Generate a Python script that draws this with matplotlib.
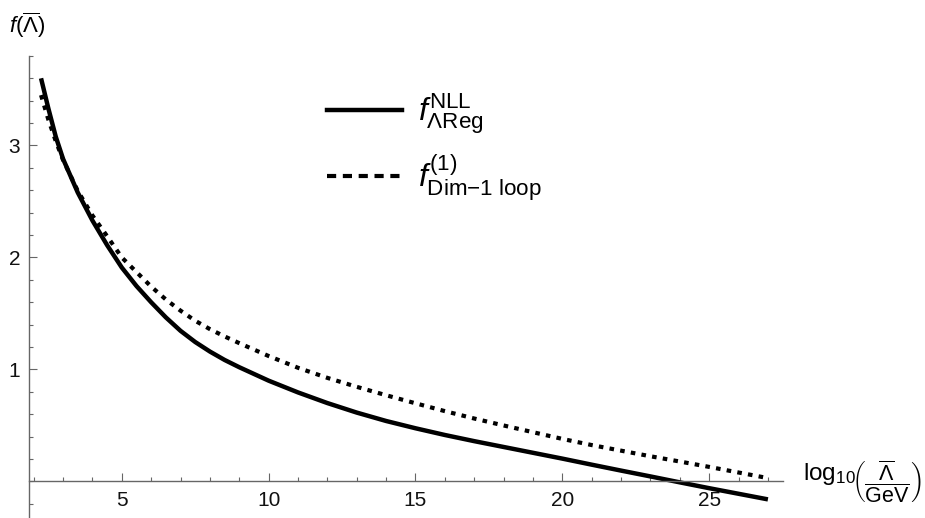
import numpy as np
import matplotlib.pyplot as plt
from matplotlib.lines import Line2D
from matplotlib.ticker import MultipleLocator, FixedLocator

plt.rcParams['font.family'] = ['Liberation Sans', 'DejaVu Sans']
plt.rcParams['mathtext.fontset'] = 'custom'
plt.rcParams['mathtext.rm'] = 'Liberation Sans'
plt.rcParams['mathtext.it'] = 'Liberation Sans:italic'
plt.rcParams['mathtext.bf'] = 'Liberation Sans:bold'

# values
x_vals = [2.25, 2.5, 2.75, 3, 3.5, 4, 4.5, 5, 5.5, 6, 6.5, 7, 7.5, 8, 8.5, 9,
          10, 11, 12, 13, 14, 15, 16, 17, 18, 19, 20, 21, 22, 23, 24, 25, 26, 27]
f_nll = [3.60, 3.33, 3.08, 2.88, 2.58, 2.33, 2.11, 1.91, 1.745, 1.60, 1.465,
         1.345, 1.245, 1.16, 1.085, 1.02, 0.90, 0.795, 0.70, 0.615, 0.54,
         0.475, 0.415, 0.36, 0.308, 0.256, 0.204, 0.15, 0.097, 0.045, -0.008,
         -0.06, -0.11, -0.16]
f_dim = [3.45, 3.23, 3.04, 2.87, 2.595, 2.375, 2.19, 2.00, 1.87, 1.74, 1.625,
         1.525, 1.435, 1.36, 1.295, 1.235, 1.12, 1.015, 0.925, 0.845, 0.77,
         0.698, 0.628, 0.562, 0.50, 0.44, 0.38, 0.325, 0.275, 0.225, 0.178,
         0.13, 0.08, 0.03]
labels = [r'$f^{\mathrm{NLL}}_{\Lambda\mathrm{Reg}}$',
          r'$f^{(1)}_{\mathrm{Dim{-}1\ loop}}$']
y_major = [1, 2, 3]

axis_col = '#666666'

fig = plt.figure(figsize=(9.25, 5.18), dpi=100)
ax = fig.add_axes([29.3 / 925, 0.7 / 518, 753.3 / 925, 461.4 / 518])

ax.plot(x_vals, f_nll, color='black', lw=3.2, solid_capstyle='butt',
        solid_joinstyle='round')
ax.plot(x_vals, f_dim, color='black', lw=3.0, linestyle=(0, (1.1, 1.5)),
        dash_capstyle='butt')

ax.set_xlim(1.85, 27.5)
ax.set_ylim(-0.32, 3.8)

for s in ['top', 'right']:
    ax.spines[s].set_visible(False)
ax.spines['bottom'].set_position(('data', 0))
for s in ['bottom', 'left']:
    ax.spines[s].set_color(axis_col)
    ax.spines[s].set_linewidth(1.0)

ax.xaxis.set_major_locator(MultipleLocator(5))
ax.xaxis.set_minor_locator(MultipleLocator(1))
ax.yaxis.set_major_locator(FixedLocator(y_major))
ax.yaxis.set_minor_locator(MultipleLocator(0.2))
ax.tick_params(which='both', direction='in', color=axis_col, width=0.8,
               labelsize=15, labelcolor='#111111')
ax.tick_params(which='major', length=6)
ax.tick_params(which='minor', length=3)
ax.tick_params(axis='x', pad=7)
ax.tick_params(axis='y', pad=6.5)

# legend
handles = [Line2D([], [], color='black', lw=3.2),
           Line2D([], [], color='black', lw=3.0, linestyle=(0, (2.2, 1.6)))]
ax.legend(handles, labels, loc='center left',
          bbox_to_anchor=(327 / 925, 1 - 147 / 518),
          bbox_transform=fig.transFigure, frameon=False, fontsize=23,
          handlelength=2.35, handletextpad=0.5, labelspacing=0.5,
          borderpad=0, borderaxespad=0)

# axis labels
fig.text(803 / 925, 1 - 480 / 518, r'log$_{10}$',
         fontsize=17.5, ha='left', va='baseline')
fig.text(852 / 925, 1 - 482 / 518,
         r'$\left(\dfrac{\overline{\Lambda}}{\mathrm{GeV}}\right)$',
         fontsize=15.5, ha='left', va='center')
fig.text(9 / 925, 1 - 25 / 518, r'$f(\overline{\Lambda})$',
         fontsize=16, ha='left', va='center')

fig.savefig('out.png', dpi=100)
